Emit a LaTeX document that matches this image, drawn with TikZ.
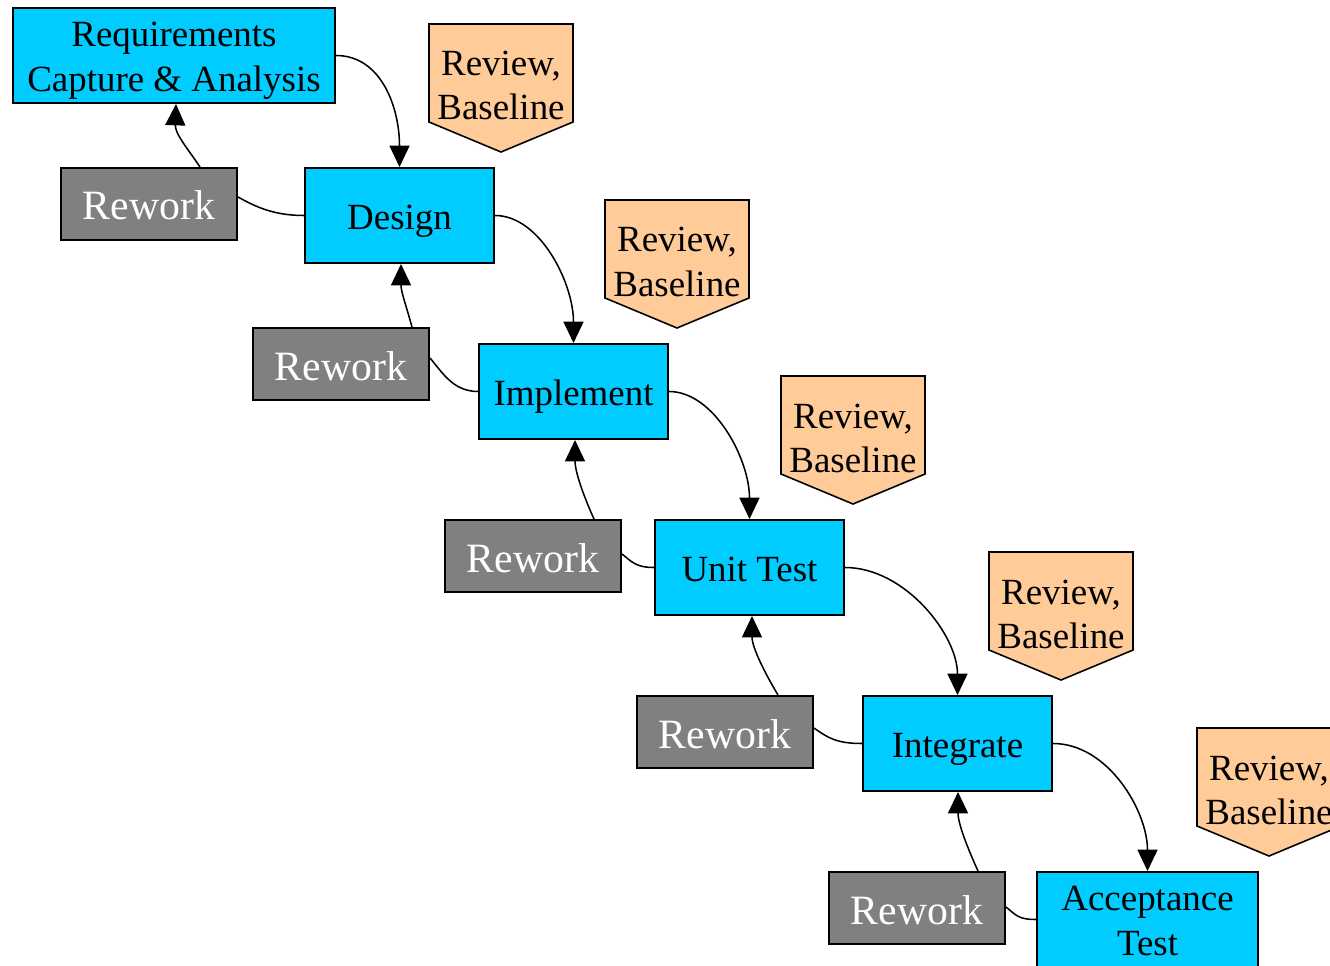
\documentclass[tikz,border=0pt]{standalone}
\usepackage{fontspec}
\setmainfont{Liberation Serif}
\usetikzlibrary{calc,arrows.meta}

\definecolor{stepblue}{HTML}{00CCFF}
\definecolor{reworkgray}{HTML}{808080}
\definecolor{reviewpeach}{HTML}{FFCC99}

\tikzset{
  stepbox/.style={draw=black, line width=1.5pt, fill=stepblue, inner sep=0pt,
    minimum width=141.75pt, minimum height=71.25pt, align=center,
    text height=20.7pt, text depth=0pt,
    font=\fontsize{27.7}{33.5}\selectfont},
  twoline/.style={text height=54pt, text depth=0pt},
  reworkbox/.style={draw=black, line width=1.5pt, fill=reworkgray, inner sep=0pt,
    minimum width=132pt, minimum height=54pt, text=white,
    text height=24pt, text depth=0pt,
    font=\fontsize{31.3}{36}\selectfont},
  reviewtext/.style={inner sep=0pt, align=center, text height=54pt, text depth=0pt,
    font=\fontsize{27.7}{33}\selectfont},
  reviewshape/.style={draw=black, line width=1.2pt, fill=reviewpeach},
  flow/.style={line width=1.15pt, -{Triangle[length=16pt,width=15pt]}},
  back/.style={line width=1.15pt},
}

% a downward-pointing review flag, top-left corner at #1, name #2
\newcommand{\reviewflag}[2]{%
  \coordinate (#2tl) at #1;
  \draw[reviewshape] (#2tl) -- ++(144,0) -- ++(0,98) -- ++(-72,30) -- ++(-72,-30) -- cycle;
  \node[reviewtext] (#2) at ($(#2tl)+(72,60)$) {Review,\\Baseline};
}

\begin{document}
\begin{tikzpicture}[x=0.75pt, y=-0.75pt]
\useasboundingbox (0,0) rectangle (1330,966);
\clip (0,0) rectangle (1330,966);

% process steps
\node[stepbox, twoline, minimum width=241.5pt] (req) at (174,55.5) {Requirements\\Capture \& Analysis};
\node[stepbox] (design) at (399.5,215.5) {Design};
\node[stepbox] (impl) at (573.5,391.5) {Implement};
\node[stepbox] (unit) at (749.5,567.5) {Unit Test};
\node[stepbox] (integ) at (957.5,743.5) {Integrate};
\node[stepbox, twoline, minimum width=165.75pt] (accept) at (1147.5,919.5) {Acceptance\\Test};

% rework boxes
\node[reworkbox] (rw1) at (149,204) {Rework};
\node[reworkbox] (rw2) at (341,364) {Rework};
\node[reworkbox] (rw3) at (533,556) {Rework};
\node[reworkbox] (rw4) at (725,732) {Rework};
\node[reworkbox] (rw5) at (917,908) {Rework};

% review gates
\reviewflag{(429,24)}{rv1}
\reviewflag{(605,200)}{rv2}
\reviewflag{(781,376)}{rv3}
\reviewflag{(989,552)}{rv4}
\reviewflag{(1197,728)}{rv5}

% forward flow
\draw[flow] (req.east) .. controls +(45,0) and +(0,-60) .. (design.north);
\draw[flow] (design.east) .. controls +(45,0) and +(0,-60) .. (impl.north);
\draw[flow] (impl.east) .. controls +(45,0) and +(0,-60) .. (unit.north);
\draw[flow] (unit.east) .. controls +(60,0) and +(0,-60) .. (integ.north);
\draw[flow] (integ.east) .. controls +(55,0) and +(0,-60) .. (accept.north);

% step to rework
\draw[back] (design.west) .. controls +(-30,0) and +(18,10) .. ($(rw1.east)+(0,-7)$);
\draw[back] (impl.west) .. controls +(-25,0) and +(12,14) .. ($(rw2.east)+(0,-6)$);
\draw[back] (unit.west) .. controls +(-18,0) and +(10,8) .. ($(rw3.east)+(0,-2)$);
\draw[back] (integ.west) .. controls +(-25,0) and +(14,10) .. ($(rw4.east)+(0,-4)$);
\draw[back] (accept.west) .. controls +(-18,0) and +(10,8) .. ($(rw5.east)+(0,-1)$);

% rework back to the previous step
\draw[flow] ($(rw1.north)+(51,0)$) .. controls +(-12,-18) and +(-1,30) .. ($(req.south)+(2,0)$);
\draw[flow] ($(rw2.north)+(71,0)$) .. controls +(-6,-22) and +(0,28) .. ($(design.south)+(1.5,0)$);
\draw[flow] ($(rw3.north)+(61,0)$) .. controls +(-10,-22) and +(0,32) .. ($(impl.south)+(1.5,0)$);
\draw[flow] ($(rw4.north)+(53,0)$) .. controls +(-12,-20) and +(0,32) .. ($(unit.south)+(2.5,0)$);
\draw[flow] ($(rw5.north)+(61,0)$) .. controls +(-10,-22) and +(0,32) .. ($(integ.south)+(0.5,0)$);
\end{tikzpicture}
\end{document}
